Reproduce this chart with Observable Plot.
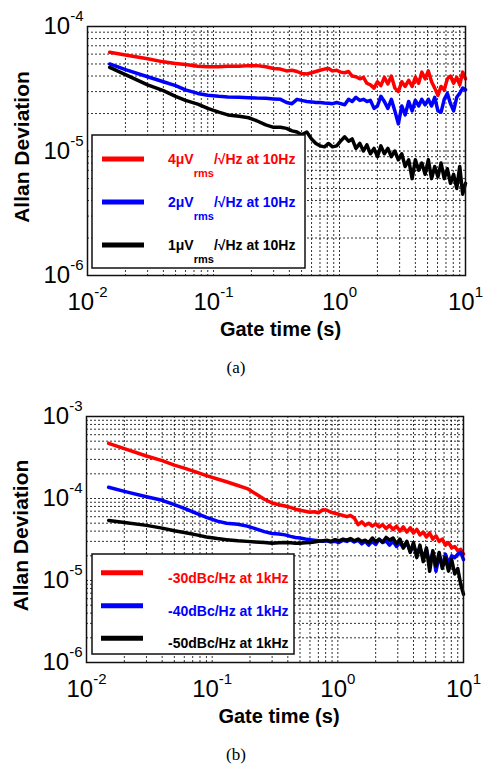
<!DOCTYPE html>
<html><head><meta charset="utf-8">
<script src="https://cdn.jsdelivr.net/npm/d3@7"></script>
<script src="https://cdn.jsdelivr.net/npm/@observablehq/plot@0.6"></script>
<style>
body{margin:0;background:#fff;}
#root{position:relative;width:483px;height:771px;overflow:hidden;background:#fff;}
.panel{position:absolute;left:0;}
.cap{position:absolute;left:0;width:472px;text-align:center;font-family:"Liberation Serif","Times New Roman",serif;font-size:17px;line-height:17px;color:#000;}
</style></head><body>
<div id="root">
  <div id="pa" class="panel" style="top:0px"></div>
  <div id="capa" class="cap" style="top:359px"></div>
  <div id="pb" class="panel" style="top:390px"></div>
  <div id="capb" class="cap" style="top:746px"></div>
</div>
<script>
// ---------- data ----------
const gateTime = [0.015,0.02,0.03,0.04,0.05,0.06,0.075,0.09,0.11,0.13,
  0.16,0.19,0.22,0.26,0.3,0.34,0.38,0.42,0.46,0.5,
  0.55,0.6,0.65,0.7,0.76,0.82,0.88,0.95,1.02,1.1,
  1.18,1.26,1.35,1.45,1.55,1.65,1.76,1.88,2.0,2.13,
  2.27,2.42,2.58,2.75,2.93,3.12,3.32,3.54,3.77,4.0,
  4.25,4.5,4.78,5.07,5.38,5.7,6.04,6.4,6.78,7.18,
  7.6,8.05,8.52,9.0,9.5,10.0];

// Panel (a)
const redA = [6.2e-5,5.9e-5,5.5e-5,5.2e-5,5.05e-5,4.95e-5,4.8e-5,4.75e-5,4.75e-5,4.8e-5,
  4.8e-5,4.85e-5,4.85e-5,4.75e-5,4.6e-5,4.55e-5,4.4e-5,4.45e-5,4.35e-5,4.2e-5,
  4.15e-5,4.25e-5,4.35e-5,4.45e-5,4.55e-5,4.6e-5,4.4e-5,4.45e-5,4.3e-5,4.25e-5,
  4.35e-5,4.0e-5,3.95e-5,3.8e-5,3.9e-5,3.5e-5,3.4e-5,3.2e-5,3.6e-5,3.35e-5,
  3.9e-5,3.45e-5,4.0e-5,3.2e-5,3.0e-5,3.6e-5,3.3e-5,3.7e-5,3.3e-5,3.9e-5,
  3.5e-5,4.3e-5,3.8e-5,4.4e-5,3.6e-5,3.2e-5,2.8e-5,3.3e-5,3.1e-5,3.8e-5,
  4.0e-5,3.5e-5,3.9e-5,3.4e-5,4.3e-5,3.8e-5];
const blueA = [5.0e-5,4.5e-5,3.95e-5,3.6e-5,3.35e-5,3.1e-5,2.9e-5,2.8e-5,2.75e-5,2.72e-5,
  2.7e-5,2.68e-5,2.66e-5,2.65e-5,2.62e-5,2.6e-5,2.45e-5,2.4e-5,2.6e-5,2.55e-5,
  2.5e-5,2.48e-5,2.45e-5,2.45e-5,2.43e-5,2.42e-5,2.4e-5,2.45e-5,2.4e-5,2.35e-5,
  2.6e-5,2.5e-5,2.7e-5,2.55e-5,2.6e-5,2.5e-5,2.55e-5,2.2e-5,2.3e-5,2.75e-5,
  2.5e-5,2.2e-5,2.6e-5,2.1e-5,1.65e-5,2.3e-5,1.95e-5,2.5e-5,2.1e-5,2.55e-5,
  2.3e-5,2.6e-5,2.35e-5,2.6e-5,2.3e-5,2.7e-5,2.1e-5,2.05e-5,2.6e-5,2.9e-5,
  2.4e-5,2.1e-5,2.7e-5,2.9e-5,3.2e-5,3.1e-5];
const blackA = [4.7e-5,4.1e-5,3.4e-5,3.05e-5,2.75e-5,2.55e-5,2.38e-5,2.2e-5,2.05e-5,1.95e-5,
  1.9e-5,1.85e-5,1.75e-5,1.62e-5,1.55e-5,1.55e-5,1.52e-5,1.45e-5,1.42e-5,1.35e-5,
  1.42e-5,1.25e-5,1.15e-5,1.1e-5,1.08e-5,1.15e-5,1.08e-5,1.1e-5,1.2e-5,1.3e-5,
  1.2e-5,1.25e-5,1.05e-5,1.15e-5,1.0e-5,1.12e-5,0.95e-5,1.05e-5,0.9e-5,1.1e-5,
  0.95e-5,1.05e-5,0.9e-5,1.0e-5,0.85e-5,0.95e-5,0.75e-5,0.85e-5,0.6e-5,0.85e-5,
  0.7e-5,0.8e-5,0.65e-5,0.85e-5,0.6e-5,0.75e-5,0.62e-5,0.8e-5,0.6e-5,0.72e-5,
  0.55e-5,0.65e-5,0.5e-5,0.75e-5,0.45e-5,0.55e-5];

// Panel (b)
const redB = [4.7e-4,4.05e-4,3.3e-4,2.9e-4,2.55e-4,2.35e-4,2.1e-4,1.9e-4,1.73e-4,1.6e-4,
  1.44e-4,1.32e-4,1.15e-4,9.8e-5,8.8e-5,8.4e-5,8.1e-5,7.8e-5,7.4e-5,7.2e-5,
  7.0e-5,6.8e-5,6.9e-5,6.7e-5,7.3e-5,7.2e-5,6.8e-5,6.6e-5,6.4e-5,6.2e-5,
  6.0e-5,6.2e-5,5.8e-5,4.8e-5,5.2e-5,4.7e-5,5.0e-5,4.6e-5,4.9e-5,4.5e-5,
  4.8e-5,4.3e-5,4.7e-5,4.2e-5,4.6e-5,4.0e-5,4.5e-5,3.9e-5,4.4e-5,3.8e-5,
  4.2e-5,3.6e-5,3.9e-5,3.4e-5,3.8e-5,3.2e-5,3.5e-5,3.0e-5,3.2e-5,2.7e-5,
  2.9e-5,2.5e-5,2.6e-5,2.3e-5,2.4e-5,2.1e-5];
const blueB = [1.37e-4,1.22e-4,1.05e-4,9.5e-5,8.4e-5,7.6e-5,6.6e-5,5.9e-5,5.3e-5,5.0e-5,
  4.85e-5,4.6e-5,4.3e-5,3.95e-5,3.75e-5,3.7e-5,3.6e-5,3.45e-5,3.35e-5,3.3e-5,
  3.2e-5,3.15e-5,3.1e-5,3.05e-5,3.0e-5,3.05e-5,2.95e-5,3.0e-5,2.9e-5,3.1e-5,
  3.0e-5,3.15e-5,2.95e-5,3.1e-5,2.8e-5,3.0e-5,2.7e-5,3.0e-5,2.75e-5,3.2e-5,
  2.9e-5,3.05e-5,2.7e-5,3.0e-5,2.6e-5,2.9e-5,2.5e-5,2.9e-5,2.3e-5,2.7e-5,
  2.1e-5,2.5e-5,1.9e-5,2.4e-5,1.6e-5,2.2e-5,1.3e-5,2.0e-5,1.5e-5,2.1e-5,
  1.6e-5,2.0e-5,1.9e-5,2.1e-5,2.2e-5,1.8e-5];
const blackB = [5.4e-5,5.1e-5,4.7e-5,4.35e-5,4.05e-5,3.85e-5,3.6e-5,3.4e-5,3.25e-5,3.15e-5,
  3.05e-5,3.0e-5,2.95e-5,2.9e-5,2.85e-5,2.88e-5,2.9e-5,2.88e-5,2.85e-5,2.85e-5,
  2.88e-5,2.9e-5,2.95e-5,3.0e-5,3.05e-5,3.1e-5,3.0e-5,3.15e-5,3.05e-5,3.2e-5,
  3.1e-5,3.25e-5,3.05e-5,3.2e-5,3.0e-5,3.1e-5,2.9e-5,3.3e-5,3.0e-5,3.15e-5,
  2.95e-5,3.35e-5,3.1e-5,3.3e-5,2.8e-5,3.2e-5,2.5e-5,3.0e-5,2.2e-5,2.9e-5,
  1.9e-5,2.7e-5,1.7e-5,2.5e-5,1.3e-5,2.3e-5,1.5e-5,2.2e-5,1.4e-5,1.9e-5,
  1.3e-5,1.8e-5,1.2e-5,1.4e-5,0.9e-5,0.68e-5];

const seriesColors = ["#ff0000", "#0000ff", "#000000"];
const xTicks = [0.01, 0.1, 1, 10];
const xTickLabels = ["10^-2", "10^-1", "10^0", "10^1"];
const xGridTicks = [0.01,0.02,0.03,0.04,0.05,0.06,0.07,0.08,0.09,
  0.1,0.2,0.3,0.4,0.5,0.6,0.7,0.8,0.9,
  1,2,3,4,5,6,7,8,9,10];
const yTicksA = [1e-6, 1e-5, 1e-4];
const yTickLabelsA = ["10^-6", "10^-5", "10^-4"];
const yGridTicksA = [1e-6,2e-6,3e-6,4e-6,5e-6,6e-6,7e-6,8e-6,9e-6,
  1e-5,2e-5,3e-5,4e-5,5e-5,6e-5,7e-5,8e-5,9e-5,1e-4];
const yTicksB = [1e-6, 1e-5, 1e-4, 1e-3];
const yTickLabelsB = ["10^-6", "10^-5", "10^-4", "10^-3"];
const yGridTicksB = [1e-6,2e-6,3e-6,4e-6,5e-6,6e-6,7e-6,8e-6,9e-6,
  1e-5,2e-5,3e-5,4e-5,5e-5,6e-5,7e-5,8e-5,9e-5,
  1e-4,2e-4,3e-4,4e-4,5e-4,6e-4,7e-4,8e-4,9e-4,1e-3];
const xLabel = "Gate time (s)";
const yLabel = "Allan Deviation";
const legendA = [["4μV", "rms", "/√Hz at 10Hz"], ["2μV", "rms", "/√Hz at 10Hz"], ["1μV", "rms", "/√Hz at 10Hz"]];
const legendB = ["-30dBc/Hz at 1kHz", "-40dBc/Hz at 1kHz", "-50dBc/Hz at 1kHz"];
const captions = ["(a)", "(b)"];

// ---------- drawing ----------
const FONT = "'Liberation Sans', Arial, Helvetica, sans-serif";
const gridStyle = {stroke: "#000", strokeOpacity: 0.8, strokeWidth: 1, strokeDasharray: "2,2"};

function makePanel({series, yDomain, yTicks, yTickLabels, yGridTicks, marginLeft, marginRight, marginTop, innerHeight}) {
  const xMap = new Map(xTicks.map((d, i) => [d, xTickLabels[i]]));
  const yMap = new Map(yTicks.map((d, i) => [d, yTickLabels[i]]));
  const marginBottom = 70;
  return Plot.plot({
    width: 483,
    height: innerHeight + marginTop + marginBottom,
    marginLeft, marginRight, marginTop, marginBottom,
    x: {type: "log", domain: [0.01, 10]},
    y: {type: "log", domain: yDomain},
    style: {fontFamily: FONT, background: "transparent", color: "#000", overflow: "visible"},
    marks: [
      Plot.gridX({...gridStyle, ticks: xGridTicks}),
      Plot.gridY({...gridStyle, ticks: yGridTicks}),
      ...series.map((s, i) => Plot.line(s, {x: gateTime, y: d => d, stroke: seriesColors[i], strokeWidth: 3.5})),
      Plot.frame({stroke: "#111", strokeWidth: 1.5}),
      Plot.axisX({ticks: xTicks, tickFormat: d => xMap.get(d), tickSize: 0, tickPadding: 17, fontSize: 24, label: null}),
      Plot.axisY({ticks: yTicks, tickFormat: d => yMap.get(d), tickSize: 0, tickPadding: 4, fontSize: 24, label: null}),
      Plot.text([xLabel], {text: d => d, frameAnchor: "bottom", textAnchor: "middle", lineAnchor: "middle", dx: 4, dy: 54, fontSize: 20, fontWeight: "bold", fill: "#000"}),
      Plot.text([yLabel], {text: d => d, frameAnchor: "left", textAnchor: "middle", lineAnchor: "middle", rotate: -90, dx: -65, dy: -4, fontSize: 21, fontWeight: "bold", fill: "#000"})
    ]
  });
}

function supify(svg) {
  d3.select(svg).selectAll("text").each(function () {
    const m = /^10\^(.+)$/.exec(this.textContent);
    if (!m) return;
    const el = d3.select(this);
    el.text("10");
    el.append("tspan").attr("dy", -13).attr("font-size", 15).text(m[1]);
  });
}

function legendFrame(svg, box) {
  const g = d3.select(svg).append("g").attr("font-family", FONT).attr("text-anchor", "start");
  g.append("rect").attr("x", box.x).attr("y", box.y).attr("width", box.w).attr("height", box.h)
    .attr("fill", "#fff").attr("stroke", "#111").attr("stroke-width", 1.5);
  return g;
}

// Panel (a)
const svgA = makePanel({series: [redA, blueA, blackA], yDomain: [1e-6, 1e-4], yTicks: yTicksA, yTickLabels: yTickLabelsA,
  yGridTicks: yGridTicksA, marginLeft: 87, marginRight: 18, marginTop: 26, innerHeight: 249});
supify(svgA);
{
  const g = legendFrame(svgA, {x: 92, y: 135, w: 213, h: 133});
  const lineY = [159, 202, 245];
  legendA.forEach((parts, i) => {
    g.append("line").attr("x1", 102).attr("x2", 144).attr("y1", lineY[i]).attr("y2", lineY[i])
      .attr("stroke", seriesColors[i]).attr("stroke-width", 5);
    const t = g.append("text").attr("x", 168).attr("y", lineY[i] + 4.5).attr("fill", seriesColors[i])
      .attr("font-size", 14).attr("font-weight", "bold").attr("text-anchor", "start");
    t.append("tspan").text(parts[0]);
    t.append("tspan").attr("dy", 13.5).attr("font-size", 11).text(parts[1]);
    t.append("tspan").attr("dy", -13.5).text(parts[2]);
  });
}
document.getElementById("pa").appendChild(svgA);

// Panel (b)
const svgB = makePanel({series: [redB, blueB, blackB], yDomain: [1e-6, 1e-3], yTicks: yTicksB, yTickLabels: yTickLabelsB,
  yGridTicks: yGridTicksB, marginLeft: 86, marginRight: 20, marginTop: 26, innerHeight: 246});
supify(svgB);
{
  const g = legendFrame(svgB, {x: 92, y: 164, w: 202, h: 100});
  const lineY = [182.7, 215.7, 248.3];
  legendB.forEach((label, i) => {
    g.append("line").attr("x1", 101).attr("x2", 143).attr("y1", lineY[i]).attr("y2", lineY[i])
      .attr("stroke", seriesColors[i]).attr("stroke-width", 5);
    g.append("text").attr("x", 168).attr("y", lineY[i] + 10).attr("fill", seriesColors[i])
      .attr("font-size", 14).attr("font-weight", "bold").attr("text-anchor", "start").text(label);
  });
}
document.getElementById("pb").appendChild(svgB);

document.getElementById("capa").textContent = captions[0];
document.getElementById("capb").textContent = captions[1];
</script>
</body></html>
